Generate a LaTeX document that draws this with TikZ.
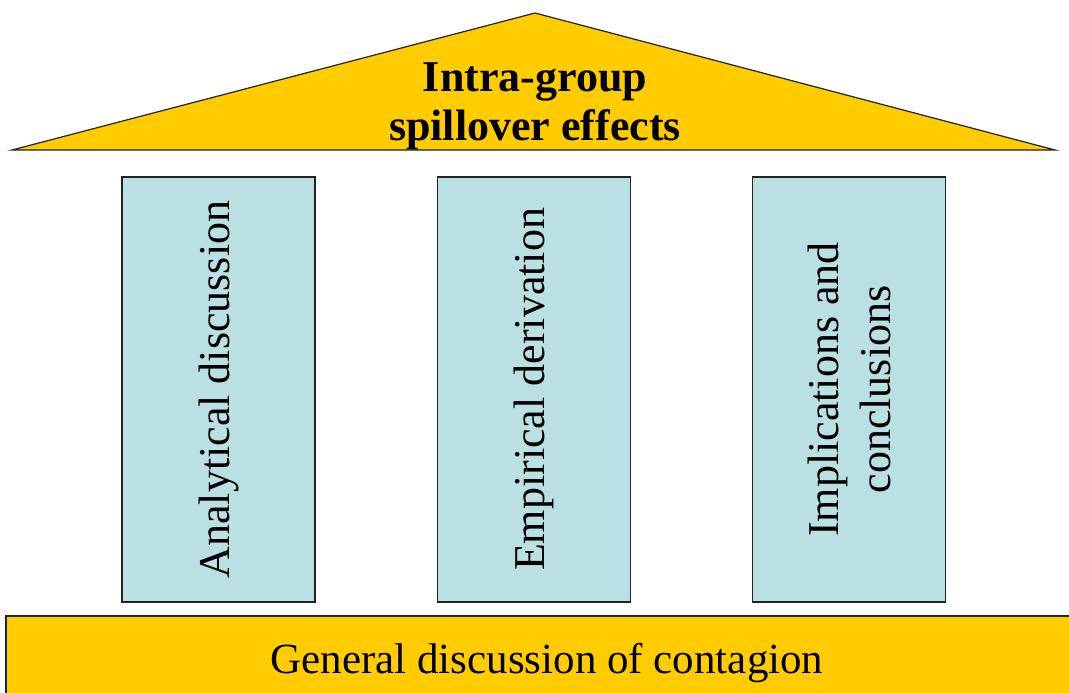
\documentclass[tikz,border=0pt]{standalone}
\usepackage{fontspec}
\setmainfont{Liberation Serif}
\definecolor{roofyellow}{HTML}{FFCC00}
\definecolor{pillarblue}{HTML}{BAE0E4}
\definecolor{edgegrey}{HTML}{222222}
\tikzset{
  roofshape/.style={fill=roofyellow, draw=edgegrey, line width=1.2pt, line join=miter},
  pillarbox/.style={draw=edgegrey, fill=pillarblue, line width=1.2pt, rotate=90,
    minimum width=425pt, minimum height=193pt, inner sep=0pt,
    font=\fontsize{44}{52}\selectfont, align=center},
  basebox/.style={draw=edgegrey, fill=roofyellow, line width=1.5pt},
  rooftext/.style={font=\bfseries\fontsize{44}{49}\selectfont, align=center},
  basetext/.style={font=\fontsize{43}{50}\selectfont, anchor=base}
}
\begin{document}
\begin{tikzpicture}[x=1pt, y=-1pt]
  % canvas
  \useasboundingbox (0,0) rectangle (1069,693);
  \fill[white] (0,0) rectangle (1069,693);
  % roof
  \coordinate (roofL) at (12,150);
  \coordinate (roofT) at (535,13);
  \coordinate (roofR) at (1055,150);
  \draw[roofshape] (roofL) -- (roofT) -- (roofR) -- cycle;
  \node[rooftext] (title) at (535,106) {Intra-group\\spillover effects};
  % pillars
  \node[pillarbox] (p1) at (218.5,389.5) {Analytical discussion};
  \node[pillarbox] (p2) at (534,389.5) {Empirical derivation};
  \node[pillarbox] (p3) at (849,389.5) {Implications and\\conclusions};
  % foundation
  \draw[basebox] (6,616) rectangle (1080,705);
  \node[basetext] (base) at (547,673) {General discussion of contagion};
\end{tikzpicture}
\end{document}
